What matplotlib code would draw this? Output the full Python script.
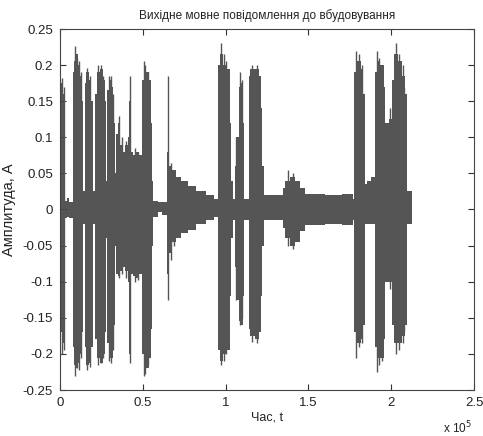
import matplotlib
matplotlib.use("Agg")
import matplotlib.pyplot as plt
from matplotlib.ticker import FixedLocator, FuncFormatter

# Step envelope of the speech waveform (time in units of 1e5 samples)
env_t = [0.000, 0.008, 0.013, 0.020, 0.027, 0.033, 0.044, 0.052, 0.078, 0.086,
         0.096, 0.108, 0.122, 0.132, 0.140, 0.152, 0.160, 0.175, 0.188, 0.198,
         0.212, 0.222, 0.240, 0.258, 0.270, 0.278, 0.285, 0.295, 0.310, 0.322,
         0.330, 0.340, 0.352, 0.365, 0.380, 0.395, 0.408, 0.416, 0.428, 0.440,
         0.460, 0.480, 0.496, 0.505, 0.520, 0.535, 0.548, 0.558, 0.563, 0.590,
         0.615, 0.645, 0.652, 0.660, 0.675, 0.700, 0.730, 0.770, 0.820, 0.880,
         0.930, 0.952, 0.965, 0.985, 1.010, 1.025, 1.035, 1.045, 1.055, 1.065,
         1.078, 1.095, 1.108, 1.114, 1.140, 1.150, 1.180, 1.200, 1.212, 1.222,
         1.232, 1.345, 1.360, 1.390, 1.420, 1.450, 1.480, 1.600, 1.700, 1.770,
         1.778, 1.790, 1.815, 1.830, 1.842, 1.855, 1.880, 1.900, 1.905, 1.915,
         1.935, 1.955, 1.965, 1.985, 2.005, 2.015, 2.040, 2.065, 2.085, 2.095,
         2.127]
env_up = [0.006, 0.175, 0.180, 0.160, 0.120, 0.012, 0.016, 0.010, 0.190, 0.205,
          0.215, 0.200, 0.185, 0.150, 0.025, 0.175, 0.190, 0.180, 0.150, 0.025,
          0.160, 0.190, 0.195, 0.180, 0.150, 0.040, 0.165, 0.180, 0.170, 0.120,
          0.050, 0.105, 0.120, 0.090, 0.080, 0.090, 0.100, 0.150, 0.080, 0.075,
          0.080, 0.075, 0.180, 0.195, 0.190, 0.180, 0.120, 0.040, 0.012, 0.010,
          0.010, 0.080, 0.120, 0.060, 0.055, 0.045, 0.040, 0.032, 0.025, 0.020,
          0.015, 0.200, 0.215, 0.200, 0.195, 0.120, 0.040, 0.015, 0.060, 0.100,
          0.170, 0.175, 0.120, 0.015, 0.185, 0.195, 0.195, 0.185, 0.140, 0.060,
          0.020, 0.030, 0.040, 0.045, 0.040, 0.030, 0.022, 0.020, 0.022, 0.015,
          0.190, 0.205, 0.195, 0.160, 0.035, 0.040, 0.045, 0.030, 0.190, 0.205,
          0.200, 0.170, 0.120, 0.125, 0.180, 0.215, 0.205, 0.185, 0.160, 0.025,
          0.000]
env_low = [-0.006, -0.170, -0.200, -0.185, -0.150, -0.012, -0.010, -0.012, -0.190, -0.215,
           -0.220, -0.212, -0.200, -0.170, -0.020, -0.190, -0.215, -0.212, -0.190, -0.020,
           -0.180, -0.205, -0.212, -0.200, -0.170, -0.040, -0.185, -0.205, -0.205, -0.160,
           -0.050, -0.090, -0.092, -0.085, -0.080, -0.085, -0.100, -0.200, -0.090, -0.092,
           -0.095, -0.090, -0.200, -0.225, -0.220, -0.205, -0.165, -0.050, -0.010, -0.004,
           -0.008, -0.090, -0.110, -0.060, -0.045, -0.040, -0.032, -0.028, -0.020, -0.015,
           -0.010, -0.195, -0.210, -0.200, -0.195, -0.120, -0.040, -0.015, -0.080, -0.125,
           -0.155, -0.160, -0.120, -0.015, -0.165, -0.175, -0.180, -0.170, -0.120, -0.050,
           -0.015, -0.025, -0.040, -0.050, -0.045, -0.030, -0.022, -0.020, -0.022, -0.015,
           -0.170, -0.185, -0.180, -0.160, -0.020, -0.020, -0.020, -0.020, -0.190, -0.205,
           -0.205, -0.180, -0.100, -0.100, -0.160, -0.185, -0.185, -0.175, -0.160, -0.020,
           0.000]

# Peak excursions (time in 1e5 samples, top, bottom)
spike_t = [0.015, 0.024, 0.090, 0.100, 0.115, 0.128, 0.165, 0.182, 0.230, 0.245,
           0.262, 0.295, 0.310, 0.318, 0.355, 0.372, 0.400, 0.420, 0.450, 0.470,
           0.505, 0.515, 0.530, 0.655, 0.668, 0.690, 0.972, 0.990, 1.005, 1.060,
           1.085, 1.100, 1.160, 1.190, 1.375, 1.410, 1.790, 1.805, 1.825, 1.915,
           1.928, 1.945, 1.990, 2.030, 2.050, 2.070, 2.080]
spike_top = [0.182, 0.170, 0.227, 0.210, 0.205, 0.190, 0.196, 0.185, 0.200, 0.200,
             0.185, 0.185, 0.185, 0.160, 0.130, 0.100, 0.095, 0.185, 0.085, 0.080,
             0.205, 0.200, 0.190, 0.185, 0.065, 0.055, 0.230, 0.215, 0.205, 0.100,
             0.190, 0.180, 0.200, 0.200, 0.055, 0.050, 0.220, 0.215, 0.200, 0.220,
             0.210, 0.200, 0.140, 0.230, 0.215, 0.200, 0.170]
spike_bot = [-0.200, -0.195, -0.230, -0.220, -0.222, -0.205, -0.222, -0.218, -0.215, -0.212,
             -0.205, -0.210, -0.213, -0.195, -0.095, -0.090, -0.095, -0.213, -0.100, -0.098,
             -0.230, -0.228, -0.215, -0.125, -0.070, -0.050, -0.215, -0.210, -0.200, -0.125,
             -0.160, -0.150, -0.183, -0.185, -0.050, -0.055, -0.205, -0.190, -0.185, -0.225,
             -0.215, -0.210, -0.110, -0.200, -0.195, -0.185, -0.170]

x_ticks = [0, 0.5, 1, 1.5, 2, 2.5]
y_ticks = [-0.25, -0.2, -0.15, -0.1, -0.05, 0, 0.05, 0.1, 0.15, 0.2, 0.25]

title = "Вихідне мовне повідомлення до вбудовування"
xlabel = "Час, t"
ylabel = "Амплитуда, А"

plt.rcParams['font.family'] = ['Liberation Sans', 'DejaVu Sans']

fig = plt.figure(figsize=(4.83, 4.36), dpi=100)
ax = fig.add_axes([60/483, 46/436, 414/483, 361/436])

wave_col = '#555555'
scale = 1e5
ax.fill_between([t*scale for t in env_t], env_low, env_up, step='post',
                color=wave_col, lw=0)
ax.vlines([t*scale for t in spike_t], spike_bot, spike_top, color=wave_col, lw=1.0)

ax.set_xlim(0, 2.5e5)
ax.set_ylim(-0.25, 0.25)
ax.xaxis.set_major_locator(FixedLocator([v*scale for v in x_ticks]))
ax.xaxis.set_major_formatter(FuncFormatter(lambda v, p: ('%g' % (v/scale))))
ax.yaxis.set_major_locator(FixedLocator(y_ticks))
ax.yaxis.set_major_formatter(FuncFormatter(lambda v, p: ('%g' % v)))

ax.tick_params(direction='in', length=4, width=0.8, colors='#333333',
               top=True, right=True, labelsize=9.5, labelcolor='#222222', pad=5)
for s in ax.spines.values():
    s.set_color('#444444')
    s.set_linewidth(0.8)

ax.set_title(title, fontsize=8.5, color='#222222', pad=7)
ax.set_xlabel(xlabel, fontsize=9, color='#222222', labelpad=2)
ax.set_ylabel(ylabel, fontsize=10.5, color='#222222', labelpad=5)
fig.text(443/483, 1 - 428/436, r'x 10$^5$', fontsize=8.5, color='#222222', va='center')

fig.savefig('out.png', dpi=100)
